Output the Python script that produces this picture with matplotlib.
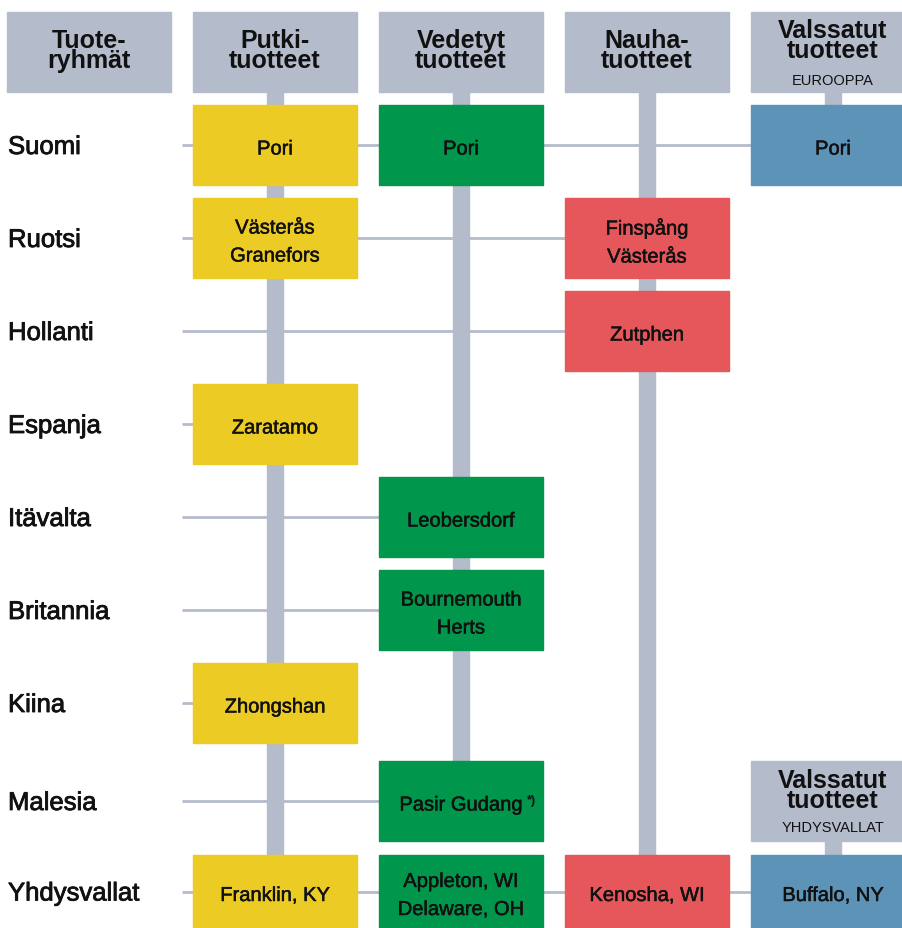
import matplotlib
matplotlib.use("Agg")
import matplotlib.pyplot as plt
import matplotlib.patheffects as pe
from matplotlib.patches import Rectangle

# Data
rows = ['Suomi', 'Ruotsi', 'Hollanti', 'Espanja', 'Itävalta',
        'Britannia', 'Kiina', 'Malesia', 'Yhdysvallat']
headers = ['Tuote-\nryhmät', 'Putki-\ntuotteet', 'Vedetyt\ntuotteet',
           'Nauha-\ntuotteet', 'Valssatut\ntuotteet']
plants_putki = {'Suomi': 'Pori', 'Ruotsi': 'Västerås\nGranefors',
                'Espanja': 'Zaratamo', 'Kiina': 'Zhongshan',
                'Yhdysvallat': 'Franklin, KY'}
plants_vedetyt = {'Suomi': 'Pori', 'Itävalta': 'Leobersdorf',
                  'Britannia': 'Bournemouth\nHerts', 'Malesia': 'Pasir Gudang',
                  'Yhdysvallat': 'Appleton, WI\nDelaware, OH'}
plants_nauha = {'Ruotsi': 'Finspång\nVästerås', 'Hollanti': 'Zutphen',
                'Yhdysvallat': 'Kenosha, WI'}
plants_valssatut = {'Suomi': 'Pori', 'Yhdysvallat': 'Buffalo, NY'}
footnote_plant = ('Malesia', 2, '*)')
# sub-headers for rolled products (row they sit in, sub label)
valssatut_regions = [(None, 'EUROOPPA'), ('Malesia', 'YHDYSVALLAT')]
# last row reached by each column's vertical connector
bar_end = [None, 'Yhdysvallat', 'Malesia', 'Yhdysvallat', 'Suomi']

columns = [None, plants_putki, plants_vedetyt, plants_nauha, plants_valssatut]
col_colors = [None, '#ECCB24', '#00964B', '#E5575A', '#5E93B8']
GREY = '#B4BBCB'
INK = '#111111'

# Layout (pixels)
W, H = 903, 929
col_x0 = [7, 193, 379, 565, 751]
box_w = 164
box_h = 80
head_top, head_bot = 13, 93
row_top = [106, 199, 292, 385, 478, 571, 664, 762, 856]
row_h = [80] * 8 + [73]
line_x0 = 182
bar_w = 16

fig = plt.figure(figsize=(W / 100, H / 100), dpi=100)
ax = fig.add_axes([0, 0, 1, 1])
ax.set_xlim(0, W)
ax.set_ylim(H, 0)
ax.axis('off')

FONT = 'Liberation Sans'


def ccx(c):
    return col_x0[c] + box_w / 2


def rcy(r):
    return row_top[r] + row_h[r] / 2


def header_text(x, y, s):
    ax.text(x, y, s, ha='center', va='center', fontsize=18, color=INK,
            fontweight='bold', family=FONT, linespacing=0.8, zorder=5)


# header boxes
for c, label in enumerate(headers):
    ax.add_patch(Rectangle((col_x0[c], head_top), box_w, head_bot - head_top,
                           color=GREY, zorder=2))
    if c == 4:
        header_text(ccx(c), 41, label)
        ax.text(ccx(c), 81, valssatut_regions[0][1], ha='center', va='center',
                fontsize=10.5, family=FONT, color=INK, zorder=5)
    else:
        header_text(ccx(c), 51, label)

# second rolled-products header (USA)
r_us_head = rows.index(valssatut_regions[1][0])
ax.add_patch(Rectangle((col_x0[4], row_top[r_us_head]), box_w, box_h,
                       color=GREY, zorder=2))
header_text(ccx(4), row_top[r_us_head] + 29, headers[4])
ax.text(ccx(4), row_top[r_us_head] + 66, valssatut_regions[1][1], ha='center',
        va='center', fontsize=10.5, family=FONT, color=INK, zorder=5)

# vertical connectors
for c in range(1, 5):
    end_r = rows.index(bar_end[c])
    ax.add_patch(Rectangle((ccx(c) - bar_w / 2, head_bot), bar_w,
                           row_top[end_r] - head_bot, color=GREY, zorder=1))
ax.add_patch(Rectangle((ccx(4) - bar_w / 2, row_top[r_us_head] + box_h), bar_w,
                       row_top[-1] - row_top[r_us_head] - box_h, color=GREY,
                       zorder=1))

# rows: labels, horizontal lines, plant boxes
for r, name in enumerate(rows):
    y = rcy(r)
    ax.text(8, y + 2, name, ha='left', va='center', fontsize=18.5,
            family=FONT, color=INK, zorder=5,
            path_effects=[pe.withStroke(linewidth=0.6, foreground=INK)])
    last_c = max(c for c in range(1, 5) if name in columns[c])
    ax.plot([line_x0, col_x0[last_c]], [y, y], color=GREY, lw=2,
            solid_capstyle='butt', zorder=0)
    for c in range(1, 5):
        if name not in columns[c]:
            continue
        ax.add_patch(Rectangle((col_x0[c], row_top[r]), box_w, row_h[r],
                               color=col_colors[c], zorder=3))
        t = ax.text(ccx(c), y + 4, columns[c][name], ha='center', va='center',
                    fontsize=14.5, family=FONT, color=INK, linespacing=1.6,
                    path_effects=[pe.withStroke(linewidth=0.35, foreground=INK)],
                    zorder=5)
        if (name, c) == footnote_plant[:2]:
            ax.annotate(footnote_plant[2], xy=(1, 1), xycoords=t,
                        xytext=(3, 1), textcoords='offset points',
                        ha='left', va='top', fontsize=9, family=FONT,
                        color=INK, fontweight='bold', zorder=5)

fig.savefig('out.png', dpi=100)
